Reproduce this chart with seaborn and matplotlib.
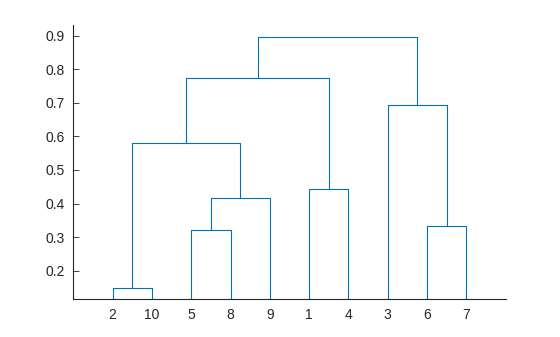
import matplotlib
matplotlib.use("Agg")
import matplotlib.pyplot as plt
import seaborn as sns
import pandas as pd

# Leaf order along the x axis
leaf_order = ['2', '10', '5', '8', '9', '1', '4', '3', '6', '7']
# Merges: cluster c{i} = merge_left[i] + merge_right[i] at merge_height[i]
merge_left = ['2', '5', 'c1', 'c0', '1', 'c3', '6', '3', 'c5']
merge_right = ['10', '8', '9', 'c2', '4', 'c4', '7', 'c6', 'c7']
merge_height = [0.150, 0.321, 0.416, 0.580, 0.443, 0.775, 0.333, 0.693, 0.895]
y_ticks = [0.2, 0.3, 0.4, 0.5, 0.6, 0.7, 0.8, 0.9]

sns.set_theme(style="ticks")
plt.rcParams['font.family'] = ['Liberation Sans', 'DejaVu Sans']

# compute node positions
xpos = {lab: i + 1 for i, lab in enumerate(leaf_order)}
ypos = {lab: 0.0 for lab in leaf_order}
rows = []
for i, (a, b, h) in enumerate(zip(merge_left, merge_right, merge_height)):
    name = f'c{i}'
    xa, xb = xpos[a], xpos[b]
    for k, (x, y) in enumerate([(xa, ypos[a]), (xa, h), (xb, h), (xb, ypos[b])]):
        rows.append({'link': name, 'order': k, 'x': x, 'y': y})
    xpos[name] = (xa + xb) / 2
    ypos[name] = h
df = pd.DataFrame(rows)

fig = plt.figure(figsize=(5.6, 3.37), dpi=100)
ax = fig.add_axes([0.131, 0.112, 0.772, 0.814])
sns.lineplot(data=df, x='x', y='y', units='link', estimator=None, sort=False,
             color='#0072BD', linewidth=0.8, ax=ax)

ax.set_xlim(0, 11)
ax.set_ylim(0.115, 0.932)
ax.set_xticks(range(1, len(leaf_order) + 1))
ax.set_xticklabels(leaf_order)
ax.set_yticks(y_ticks)
ax.set_yticklabels([f'{v:.1f}' for v in y_ticks])
ax.set_xlabel('')
ax.set_ylabel('')
for s in ['top', 'right']:
    ax.spines[s].set_visible(False)
for s in ['left', 'bottom']:
    ax.spines[s].set_color('#262626')
    ax.spines[s].set_linewidth(0.8)
ax.tick_params(axis='both', direction='in', length=4, width=0.6,
               colors='#262626', labelsize=10, pad=6)
ax.tick_params(axis='x', length=0, pad=6)
ax.set_facecolor('white')
fig.patch.set_facecolor('white')
fig.savefig('out.png', dpi=100)
